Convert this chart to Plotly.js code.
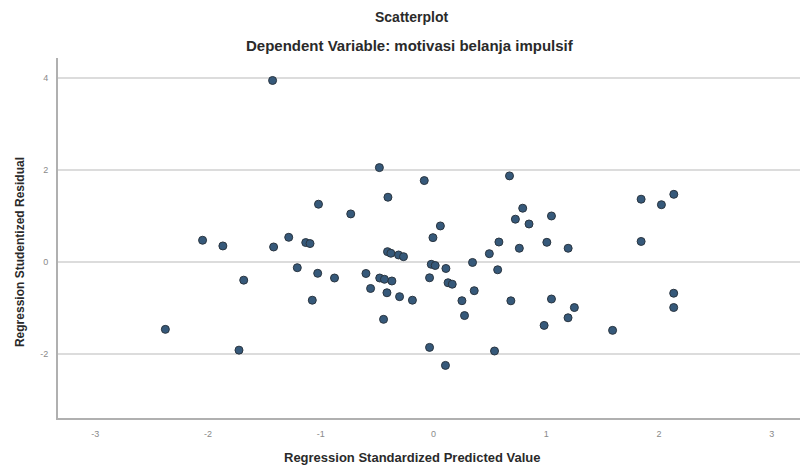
<!DOCTYPE html>
<html>
<head>
<meta charset="utf-8">
<script src="https://cdn.plot.ly/plotly-3.0.1.min.js"></script>
<style>html,body{margin:0;padding:0;background:#fff;}#chart{width:800px;height:467px;}</style>
</head>
<body>
<div id="chart"></div>
<script>
const predicted = [-1.427,-0.480,-0.404,-1.020,-0.734,-2.048,-1.868,-1.418,-1.284,-1.133,-1.095,-0.408,-0.378,-0.310,-0.266,-0.082,0.061,-0.005,0.495,0.580,0.346,-0.020,0.015,0.110,-1.208,-1.027,-0.878,-0.599,-0.477,-0.435,-0.369,-0.558,-0.413,-0.301,-0.187,-1.075,-0.443,-0.035,0.129,0.166,0.569,0.361,0.252,0.275,-0.035,0.106,0.541,-1.683,-2.378,-1.725,0.674,0.791,0.726,0.847,1.046,0.761,1.005,1.194,1.841,2.021,2.131,1.841,0.686,1.046,1.249,1.193,0.981,1.588,2.130,2.130];
const residual = [3.941,2.046,1.402,1.250,1.039,0.466,0.342,0.320,0.530,0.416,0.394,0.218,0.183,0.146,0.109,1.764,0.777,0.523,0.174,0.428,-0.017,-0.057,-0.083,-0.148,-0.131,-0.253,-0.355,-0.257,-0.355,-0.383,-0.420,-0.583,-0.676,-0.761,-0.838,-0.838,-1.254,-0.350,-0.458,-0.490,-0.176,-0.631,-0.849,-1.172,-1.864,-2.256,-1.943,-0.402,-1.472,-1.924,1.866,1.163,0.924,0.820,0.994,0.292,0.421,0.292,1.359,1.239,1.465,0.440,-0.851,-0.812,-0.998,-1.220,-1.386,-1.494,-0.686,-0.997];
const xTicks = [-3,-2,-1,0,1,2,3];
const yTicks = [-2,0,2,4];
const titleMain = "Scatterplot";
const titleSub = "Dependent Variable: motivasi belanja impulsif";
const xTitle = "Regression Standardized Predicted Value";
const yTitle = "Regression Studentized Residual";

const trace = {
  x: predicted, y: residual, type: 'scatter', mode: 'markers',
  marker: {size: 8, color: '#36597a', line: {color: '#2a3540', width: 1}},
  hoverinfo: 'skip'
};
const font = "Liberation Sans, Arial, sans-serif";
const layout = {
  width: 800, height: 467,
  margin: {l: 58, r: 0, t: 58, b: 49},
  paper_bgcolor: '#ffffff', plot_bgcolor: '#ffffff',
  showlegend: false,
  font: {family: font, color: '#222'},
  xaxis: {
    range: [-3.33, 3.25], tickvals: xTicks, ticktext: xTicks.map(String),
    showgrid: false, zeroline: false, showline: true, linecolor: '#b0b0b0', linewidth: 2,
    ticks: '', tickfont: {size: 9, color: '#8a8a8a', family: font}, ticklabelstandoff: 6
  },
  yaxis: {
    range: [-3.40, 4.43], tickvals: yTicks, ticktext: yTicks.map(String),
    showgrid: true, gridcolor: '#dcdcdc', gridwidth: 2, zeroline: false,
    showline: true, linecolor: '#b0b0b0', linewidth: 2,
    ticks: '', tickfont: {size: 9, color: '#8a8a8a', family: font}, ticklabelstandoff: 6
  },
  annotations: [
    {text: '<b>' + titleMain + '</b>', xref: 'paper', yref: 'paper', x: 0.477, y: 1.114, showarrow: false, xanchor: 'center', yanchor: 'middle', font: {size: 14, color: '#2a2a2a', family: font}},
    {text: '<b>' + titleSub + '</b>', xref: 'paper', yref: 'paper', x: 0.474, y: 1.036, showarrow: false, xanchor: 'center', yanchor: 'middle', font: {size: 15, color: '#2a2a2a', family: font}},
    {text: '<b>' + xTitle + '</b>', xref: 'paper', yref: 'paper', x: 0.477, y: -0.111, showarrow: false, xanchor: 'center', yanchor: 'middle', font: {size: 13, color: '#2a2a2a', family: font}},
    {text: '<b>' + yTitle + '</b>', xref: 'paper', yref: 'paper', x: -0.0512, y: 0.461, showarrow: false, textangle: -90, xanchor: 'center', yanchor: 'middle', font: {size: 12, color: '#2a2a2a', family: font}}
  ]
};
Plotly.newPlot('chart', [trace], layout, {staticPlot: true, displayModeBar: false});
</script>
</body>
</html>
